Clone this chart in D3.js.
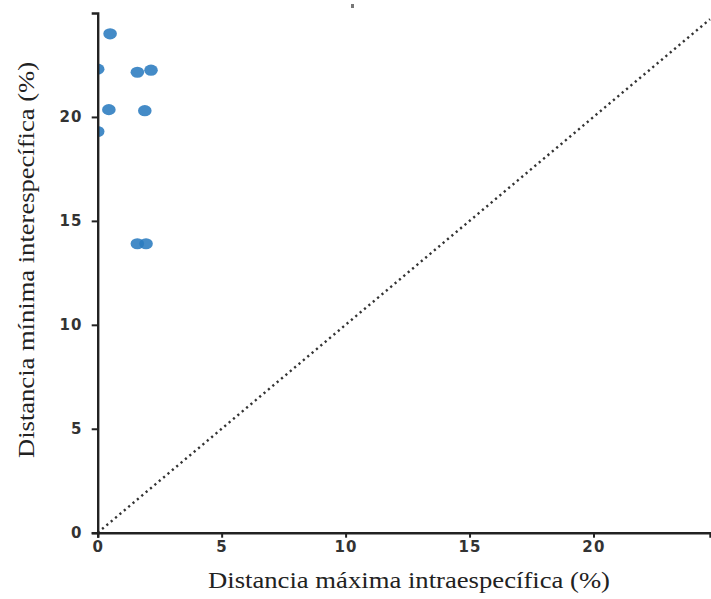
<!DOCTYPE html>
<html>
<head>
<meta charset="utf-8">
<script src="https://cdn.jsdelivr.net/npm/d3@7"></script>
<style>
  body { margin: 0; background: #fff; }
</style>
</head>
<body>
<div id="chart"></div>
<script>
// Distancia máxima intraespecífica (%) vs mínima interespecífica (%)
const intraMax = [0.5, 0, 1.6, 2.15, 0.45, 1.9, 0, 1.6, 1.95];
const interMin = [24.0, 22.3, 22.15, 22.25, 20.35, 20.3, 19.3, 13.9, 13.9];
const xTicks = [0, 5, 10, 15, 20];
const yTicks = [0, 5, 10, 15, 20];

const svgWidth = 711, svgHeight = 599;
const plotLeft = 97.7, plotBottom = 532.7, plotRight = 710, plotTop = 13;

const svg = d3.select("#chart").append("svg")
  .attr("width", svgWidth)
  .attr("height", svgHeight);

const x = d3.scaleLinear().domain([0, 24.7]).range([plotLeft, plotRight]);
const y = d3.scaleLinear().domain([0, 25]).range([plotBottom, plotTop]);

// points are clipped at the axes
svg.append("clipPath").attr("id", "plotClip")
  .append("rect")
  .attr("x", plotLeft).attr("y", 0)
  .attr("width", plotRight - plotLeft).attr("height", plotBottom);

// diagonal y = x
svg.append("line")
  .attr("x1", x(0)).attr("y1", y(0))
  .attr("x2", x(24.7)).attr("y2", y(24.7))
  .attr("stroke", "#333")
  .attr("stroke-width", 2.4)
  .attr("stroke-dasharray", "2.2,3.5");

// points
svg.append("g")
  .attr("clip-path", "url(#plotClip)")
  .selectAll("ellipse")
  .data(intraMax.map((d, i) => [d, interMin[i]]))
  .join("ellipse")
  .attr("cx", d => x(d[0]))
  .attr("cy", d => y(d[1]))
  .attr("rx", 6.8)
  .attr("ry", 5.6)
  .attr("fill", "#2a7bbf")
  .attr("fill-opacity", 0.88);

// axes
const xAxis = svg.append("g")
  .attr("transform", `translate(0,${plotBottom})`)
  .call(d3.axisBottom(x).tickValues(xTicks).tickSize(5).tickPadding(4));
const yAxis = svg.append("g")
  .attr("transform", `translate(${plotLeft},0)`)
  .call(d3.axisLeft(y).tickValues(yTicks).tickSize(6).tickPadding(9));

[xAxis, yAxis].forEach(g => {
  g.select(".domain").attr("stroke", "#222").attr("stroke-width", 2.4);
  g.selectAll(".tick line").attr("stroke", "#222").attr("stroke-width", 2);
  g.selectAll(".tick text")
    .attr("fill", "#333")
    .attr("font-family", "DejaVu Sans")
    .attr("font-weight", "bold")
    .attr("font-size", 15)
    .attr("letter-spacing", 1.2);
});

// tiny mark at the top
svg.append("rect")
  .attr("x", 351).attr("y", 4).attr("width", 3).attr("height", 4)
  .attr("fill", "#777");

// axis titles
svg.append("text")
  .attr("x", 409).attr("y", 588)
  .attr("text-anchor", "middle")
  .attr("font-family", "Liberation Serif")
  .attr("font-size", 23)
  .attr("fill", "#222")
  .attr("textLength", 402)
  .attr("lengthAdjust", "spacingAndGlyphs")
  .text("Distancia máxima intraespecífica (%)");

svg.append("text")
  .attr("transform", "translate(34,260) rotate(-90)")
  .attr("text-anchor", "middle")
  .attr("font-family", "Liberation Serif")
  .attr("font-size", 23)
  .attr("fill", "#222")
  .attr("textLength", 396)
  .attr("lengthAdjust", "spacingAndGlyphs")
  .text("Distancia mínima interespecífica (%)");
</script>
</body>
</html>
